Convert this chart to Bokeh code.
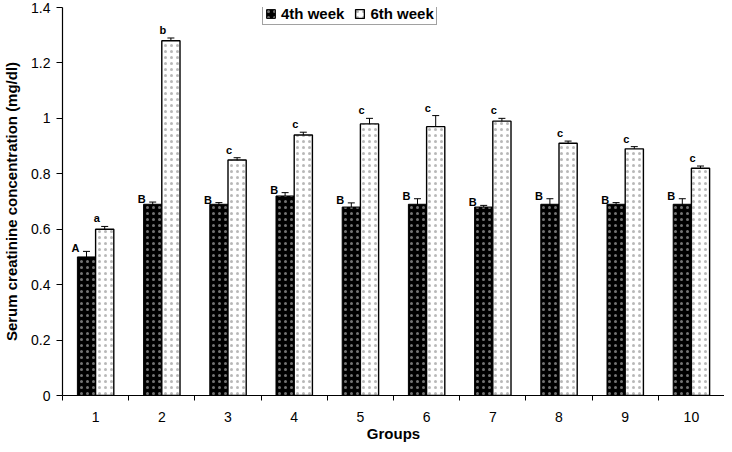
from bokeh.plotting import figure
from bokeh.models import (Range1d, FixedTicker, NumeralTickFormatter, Whisker,
                          ColumnDataSource, Legend, LegendItem, LabelSet)
from bokeh.core.properties import value
from bokeh.embed import file_html
from bokeh.resources import INLINE

groups = [1, 2, 3, 4, 5, 6, 7, 8, 9, 10]
week4 = [0.50, 0.69, 0.69, 0.72, 0.68, 0.69, 0.68, 0.69, 0.69, 0.69]
week4_err = [0.02, 0.008, 0.006, 0.012, 0.015, 0.02, 0.006, 0.02, 0.006, 0.02]
week6 = [0.60, 1.28, 0.85, 0.94, 0.98, 0.97, 0.99, 0.91, 0.89, 0.82]
week6_err = [0.01, 0.01, 0.008, 0.01, 0.02, 0.04, 0.01, 0.008, 0.008, 0.008]
week4_letters = ["A", "B", "B", "B", "B", "B", "B", "B", "B", "B"]
week6_letters = ["a", "b", "c", "c", "c", "c", "c", "c", "c", "c"]

FONT = "Liberation Sans"
bw = 0.275

p = figure(width=724, height=444, output_backend="svg", toolbar_location=None,
           x_range=Range1d(0.5, 10.5), y_range=Range1d(0, 1.4),
           min_border_left=54, min_border_right=0, min_border_top=7, min_border_bottom=44)
p.outline_line_color = None
p.xgrid.visible = False
p.ygrid.visible = False
p.background_fill_color = "white"

x4 = [g - bw / 2 for g in groups]
x6 = [g + bw / 2 for g in groups]
src4 = ColumnDataSource(dict(x=x4, top=week4, up=[v + e for v, e in zip(week4, week4_err)],
                             lo=[v - e for v, e in zip(week4, week4_err)], lab=week4_letters))
src6 = ColumnDataSource(dict(x=x6, top=week6, up=[v + e for v, e in zip(week6, week6_err)],
                             lo=[v - e for v, e in zip(week6, week6_err)], lab=week6_letters))

r4 = p.vbar(x="x", top="top", width=bw, bottom=0, source=src4, fill_color="black",
            line_color="black", line_width=1, hatch_pattern=".", hatch_color="white",
            hatch_scale=6, hatch_weight=0.6, hatch_alpha=0.45)
r6 = p.vbar(x="x", top="top", width=bw, bottom=0, source=src6, fill_color="white",
            line_color="black", line_width=1.4, hatch_pattern=".", hatch_color="#333333",
            hatch_scale=6, hatch_weight=0.6, hatch_alpha=0.35)

for s in (src4, src6):
    w = Whisker(source=s, base="x", upper="up", lower="lo", line_color="black", line_width=1)
    w.upper_head.size = 7
    w.lower_head.size = 7
    w.upper_head.line_color = "black"
    w.lower_head.line_color = "black"
    p.add_layout(w)

p.add_layout(LabelSet(x="x", y="up", text="lab", source=src4, x_offset=-11, y_offset=-3,
                      text_align="center", text_baseline="bottom", text_font=value(FONT),
                      text_font_style="bold", text_font_size="11px", text_color="black"))
p.add_layout(LabelSet(x="x", y="up", text="lab", source=src6, x_offset=-8, y_offset=2,
                      text_align="center", text_baseline="bottom", text_font=value(FONT),
                      text_font_style="bold", text_font_size="11px", text_color="black"))

# axes
p.yaxis.ticker = FixedTicker(ticks=[0, 0.2, 0.4, 0.6, 0.8, 1.0, 1.2, 1.4])
p.yaxis.formatter = NumeralTickFormatter(format="0.[0]")
p.yaxis.axis_label = "Serum creatinine concentration (mg/dl)"
p.xaxis.ticker = FixedTicker(ticks=groups, minor_ticks=[g + 0.5 for g in [0] + groups])
p.xaxis.axis_label = "Groups"
for ax in (p.xaxis, p.yaxis):
    ax.axis_line_color = "black"
    ax.axis_line_width = 1.2
    ax.major_label_text_font = FONT
    ax.major_label_text_font_size = "14px"
    ax.major_label_text_color = "black"
    ax.axis_label_text_font = FONT
    ax.axis_label_text_font_size = "15px"
    ax.axis_label_text_font_style = "bold"
    ax.axis_label_text_color = "black"
p.yaxis.major_tick_out = 6
p.yaxis.major_tick_in = 0
p.yaxis.major_tick_line_color = "black"
p.yaxis.minor_tick_line_color = None
p.yaxis.major_label_standoff = 6
p.yaxis.axis_label_standoff = 8
p.xaxis.major_tick_line_color = None
p.xaxis.major_tick_out = 0
p.xaxis.major_tick_in = 0
p.xaxis.minor_tick_out = 5
p.xaxis.minor_tick_in = 0
p.xaxis.minor_tick_line_color = "black"
p.xaxis.major_label_standoff = 11
p.xaxis.axis_label_standoff = 0

legend = Legend(items=[LegendItem(label="4th week", renderers=[r4]),
                       LegendItem(label="6th week", renderers=[r6])],
                orientation="horizontal", location=(200, 370))
legend.label_text_font = FONT
legend.label_text_font_style = "bold"
legend.label_text_font_size = "15px"
legend.label_text_color = "black"
legend.label_height = 18
legend.glyph_width = 11
legend.glyph_height = 11
legend.label_standoff = 5
legend.spacing = 10
legend.padding = 2
legend.margin = 0
legend.border_line_color = "#444444"
legend.border_line_width = 1
legend.background_fill_alpha = 1
p.add_layout(legend)

open("out.html", "w").write(file_html(p, INLINE))
